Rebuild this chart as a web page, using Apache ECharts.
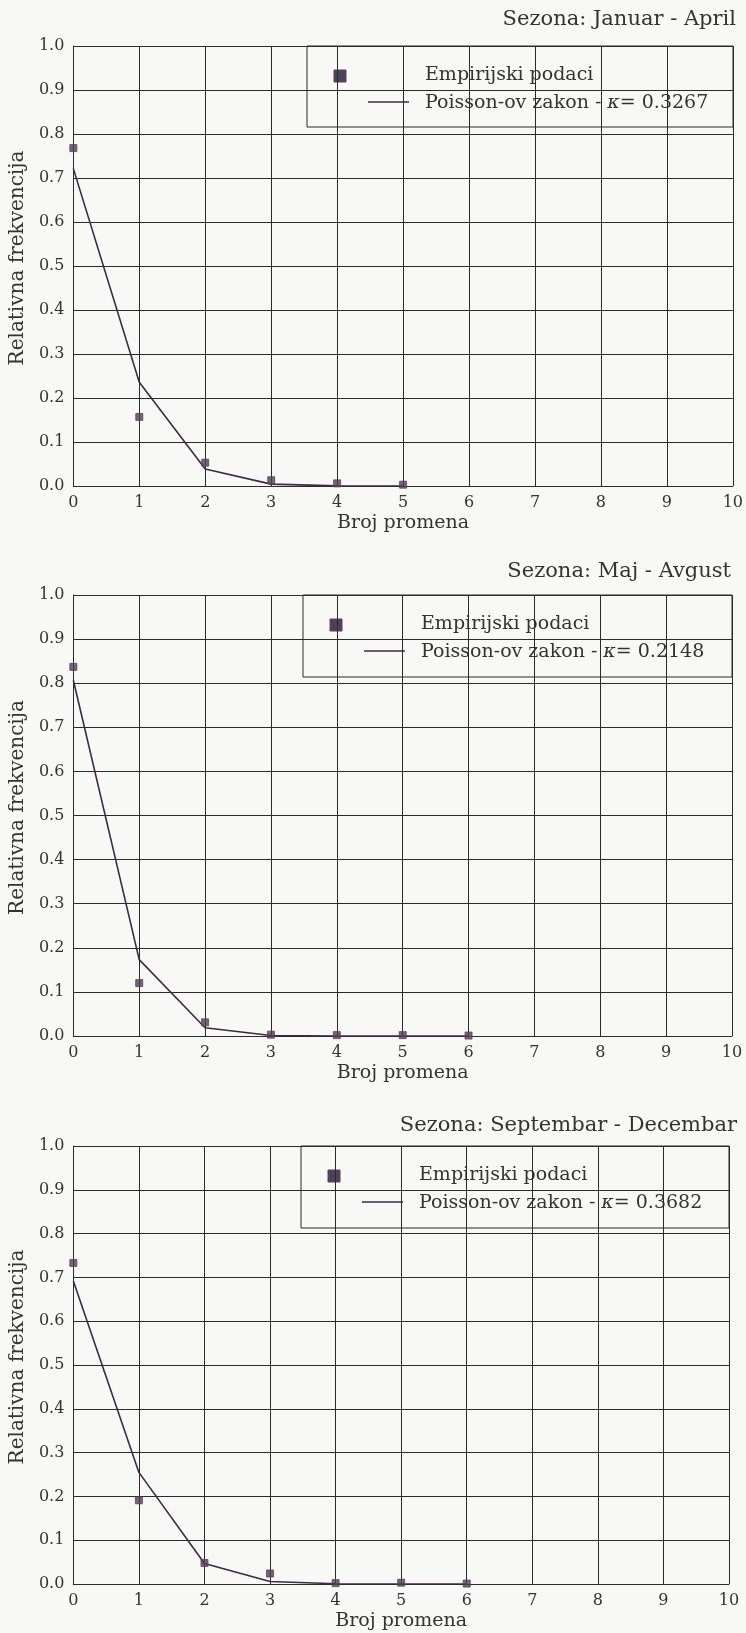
<!DOCTYPE html>
<html>
<head>
<meta charset="utf-8">
<title>Relativna frekvencija broja promena po sezonama</title>
<script src="https://cdn.jsdelivr.net/npm/echarts@6/dist/echarts.min.js"></script>
<style>
  html, body { margin: 0; padding: 0; background: #f8f8f6; }
  #chart { width: 746px; height: 1633px; }
</style>
</head>
<body>
<div id="chart"></div>
<script>
// Broj promena (x values) for each season
const brojPromena1 = [0, 1, 2, 3, 4, 5];
const brojPromena2 = [0, 1, 2, 3, 4, 5, 6];
const brojPromena3 = [0, 1, 2, 3, 4, 5, 6];

// Empirical relative frequencies
const empirijski1 = [0.768, 0.157, 0.053, 0.013, 0.006, 0.003];
const empirijski2 = [0.837, 0.120, 0.031, 0.003, 0.002, 0.002, 0.001];
const empirijski3 = [0.733, 0.191, 0.048, 0.024, 0.002, 0.003, 0.001];

// Poisson law probabilities
const poisson1 = [0.7213, 0.2357, 0.0385, 0.0042, 0.0003, 0.0000];
const poisson2 = [0.8067, 0.1733, 0.0186, 0.0013, 0.0001, 0.0000, 0.0000];
const poisson3 = [0.6920, 0.2548, 0.0469, 0.0058, 0.0005, 0.0000, 0.0000];

// Season titles and kappa parameters
const sezone = ['Sezona: Januar - April', 'Sezona: Maj - Avgust', 'Sezona: Septembar - Decembar'];
const kapa = ['0.3267', '0.2148', '0.3682'];

// Axis tick labels
const yTicks = ['0.0', '0.1', '0.2', '0.3', '0.4', '0.5', '0.6', '0.7', '0.8', '0.9', '1.0'];
const xTicks = ['0', '1', '2', '3', '4', '5', '6', '7', '8', '9', '10'];

const xNaziv = 'Broj promena';
const yNaziv = 'Relativna frekvencija';
const legendaEmp = 'Empirijski podaci';
const legendaPoi = 'Poisson-ov zakon - ';

// ---- layout ----
const FONT = 'DejaVu Serif';
const INK = '#2b2b2b';
const TEXT = '#333333';
const LINE = '#3a2c44';
const MARK = '#4a4259';
const BG = '#f8f8f6';

const grids = [
  { left: 72, top: 46, width: 661, height: 440 },
  { left: 69, top: 595, width: 663, height: 441 },
  { left: 68, top: 1146, width: 661, height: 438 }
];
const titleBox = [
  { right: 10, top: 9 },
  { right: 15, top: 561 },
  { right: 9, top: 1115 }
];
const legendBox = [
  { x: 307, y: 46, w: 426, h: 81 },
  { x: 303, y: 595, w: 429, h: 82 },
  { x: 301, y: 1146, w: 428, h: 82 }
];

const xs = [brojPromena1, brojPromena2, brojPromena3];
const emps = [empirijski1, empirijski2, empirijski3];
const pois = [poisson1, poisson2, poisson3];

const pairs = (x, y) => x.map((v, i) => [v, y[i]]);

const option = {
  backgroundColor: BG,
  animation: false,
  title: sezone.map((t, i) => ({
    text: t,
    right: titleBox[i].right,
    top: titleBox[i].top,
    padding: 0,
    textStyle: { fontFamily: FONT, fontSize: 21, fontWeight: 'normal', color: TEXT, lineHeight: 22 }
  })),
  grid: grids.map(g => ({ left: g.left, top: g.top, width: g.width, height: g.height, containLabel: false })),
  xAxis: grids.map((g, i) => ({
    type: 'value',
    gridIndex: i,
    min: 0,
    max: 10,
    interval: 1,
    name: xNaziv,
    nameLocation: 'middle',
    nameGap: 28,
    nameTextStyle: { fontFamily: FONT, fontSize: 19, color: TEXT },
    axisLine: { show: true, onZero: false, lineStyle: { color: INK, width: 1 } },
    axisTick: { show: false },
    axisLabel: {
      fontFamily: FONT, fontSize: 16, color: TEXT, margin: 9,
      formatter: v => xTicks[Math.round(v)]
    },
    splitLine: { show: true, lineStyle: { color: INK, width: 1 } }
  })),
  yAxis: grids.map((g, i) => ({
    type: 'value',
    gridIndex: i,
    min: 0,
    max: 1,
    interval: 0.1,
    name: yNaziv,
    nameLocation: 'middle',
    nameGap: 42,
    nameTextStyle: { fontFamily: FONT, fontSize: 20, color: TEXT, padding: [0, 0, 0, 16] },
    axisLine: { show: true, lineStyle: { color: INK, width: 1 } },
    axisTick: { show: false },
    axisLabel: {
      fontFamily: FONT, fontSize: 16, color: TEXT, margin: 9,
      formatter: v => yTicks[Math.round(v * 10)]
    },
    splitLine: { show: true, lineStyle: { color: INK, width: 1 } }
  })),
  series: [].concat(...grids.map((g, i) => [
    {
      name: legendaPoi + 'κ= ' + kapa[i],
      type: 'line',
      xAxisIndex: i,
      yAxisIndex: i,
      data: pairs(xs[i], pois[i]),
      symbol: 'none',
      lineStyle: { color: LINE, width: 1.6 },
      z: 3
    },
    {
      name: legendaEmp,
      type: 'scatter',
      xAxisIndex: i,
      yAxisIndex: i,
      data: pairs(xs[i], emps[i]),
      symbol: 'rect',
      symbolSize: 7,
      itemStyle: { color: MARK, borderColor: '#6d3f52', borderWidth: 1 },
      z: 4
    }
  ])),
  graphic: legendBox.map((b, i) => ({
    type: 'group',
    x: b.x,
    y: b.y,
    z: 50,
    children: [
      {
        type: 'rect',
        shape: { x: 0, y: 0, width: b.w, height: b.h },
        style: { fill: BG, stroke: INK, lineWidth: 1 }
      },
      {
        type: 'rect',
        shape: { x: 27, y: 24, width: 12, height: 12 },
        style: { fill: MARK, stroke: '#6d3f52', lineWidth: 1 }
      },
      {
        type: 'line',
        shape: { x1: 61, y1: 56, x2: 102, y2: 56 },
        style: { stroke: LINE, lineWidth: 1.6 }
      },
      {
        type: 'text',
        x: 118,
        y: 29,
        style: {
          text: legendaEmp,
          fontFamily: FONT, fontSize: 19, fill: TEXT,
          verticalAlign: 'middle', align: 'left'
        }
      },
      {
        type: 'text',
        x: 118,
        y: 57,
        style: {
          text: legendaPoi + '{k|κ}= ' + kapa[i],
          fontFamily: FONT, fontSize: 19, fill: TEXT,
          verticalAlign: 'middle', align: 'left',
          rich: { k: { fontFamily: FONT, fontSize: 19, fontStyle: 'italic', fill: TEXT } }
        }
      }
    ]
  }))
};

const chart = echarts.init(document.getElementById('chart'), null, { renderer: 'canvas' });
chart.setOption(option);
</script>
</body>
</html>
